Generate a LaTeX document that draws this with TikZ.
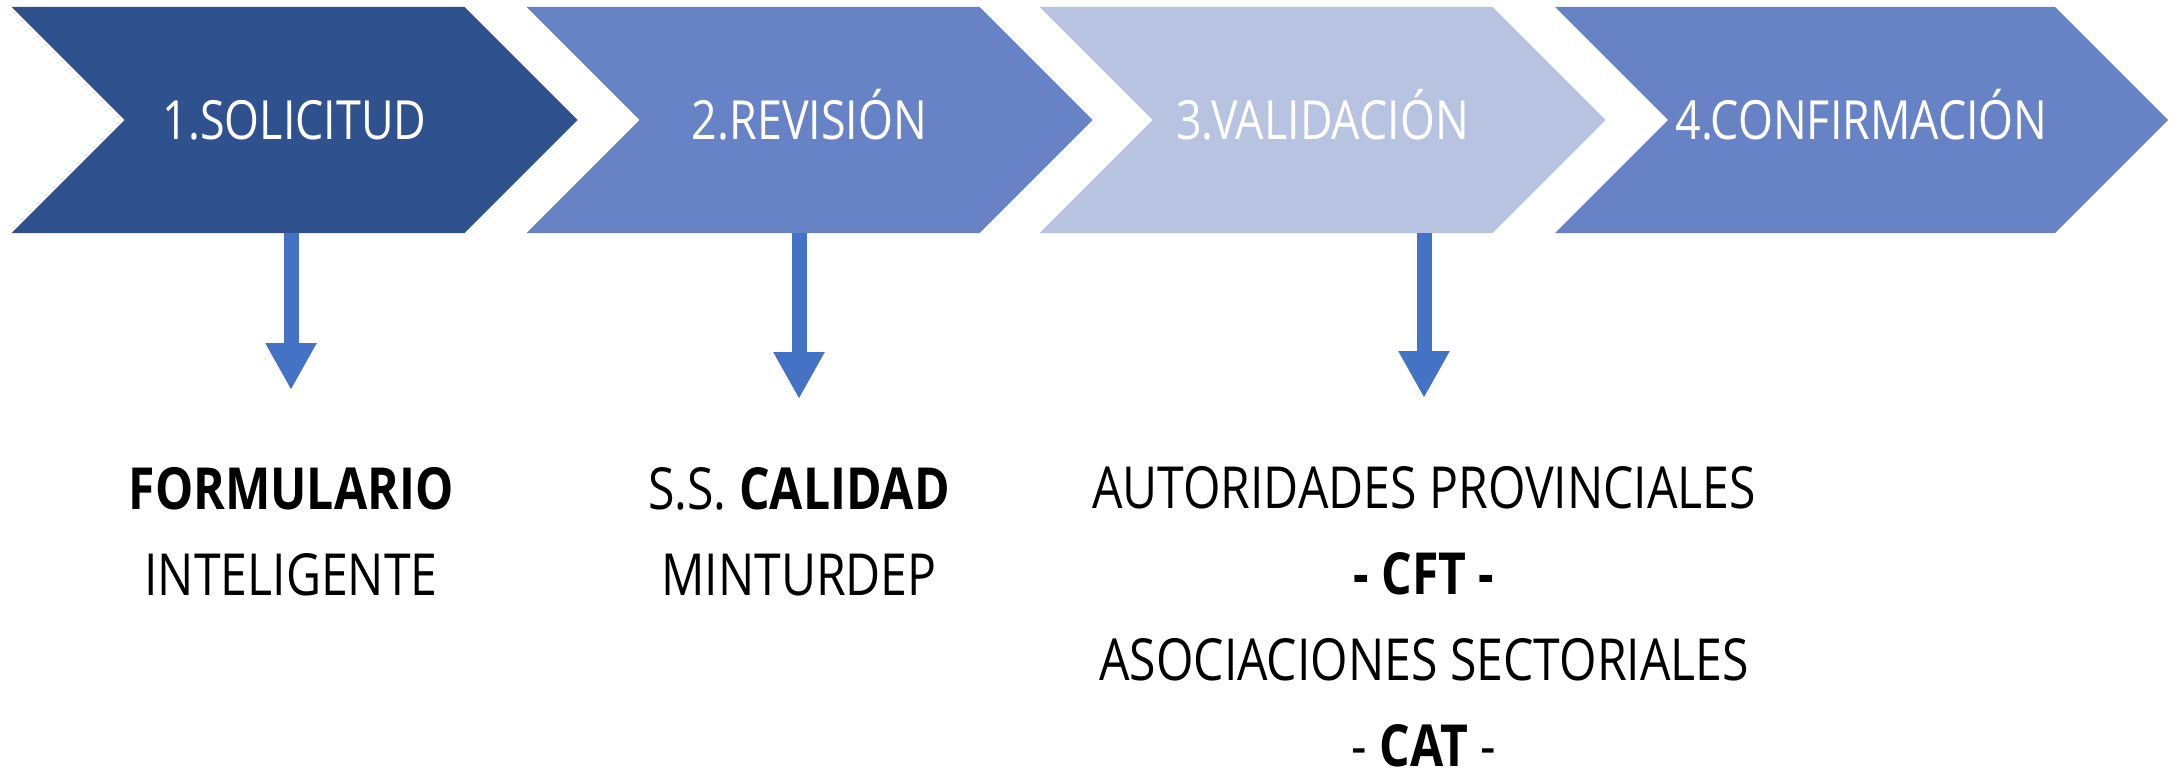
\documentclass[tikz,border=0pt]{standalone}
\usepackage{fontspec}
\setmainfont{Open Sans}[FakeStretch=0.83]
\usepackage{tikz}
\usetikzlibrary{positioning,shapes.symbols,arrows.meta}
\definecolor{azulosc}{RGB}{47,82,143}
\definecolor{azulmed}{RGB}{103,131,197}
\definecolor{azulcla}{RGB}{183,195,225}
\definecolor{azulflecha}{RGB}{68,114,196}
\tikzset{paso/.style = {signal,signal from=west,signal to=east,signal pointer angle=90,
    minimum height=226pt,minimum width=566pt,inner sep=0pt,outer sep=0pt,
    text=white,font=\fontsize{54}{60}\selectfont,text height=38pt,text depth=0pt},
  texto/.style = {align=center,inner sep=0pt,anchor=north,font=\fontsize{58}{86}\selectfont},
  flecha/.style = {azulflecha,line width=15pt,-{Triangle[width=48pt,length=47pt]}}}

\begin{document}
\begin{tikzpicture}[x=1pt,y=-1pt]
        \useasboundingbox (0,0) rectangle (2175,768);
        \node [paso,fill=azulosc] (sol) at (294.5,120) {1.SOLICITUD};
        \node [paso,fill=azulmed] (rev) at (809.5,120) {2.REVISIÓN};
        \node [paso,fill=azulcla] (val) at (1322.5,120) {3.VALIDACIÓN};
        \node [paso,fill=azulmed,minimum width=613pt] (conf) at (1861.5,120) {4.CONFIRMACIÓN};
        \node [texto] (form) at (291,467) {\textbf{FORMULARIO}\\INTELIGENTE};
        \node [texto] (cal) at (799,467) {S.S. \textbf{CALIDAD}\\MINTURDEP};
        \node [texto] (aut) at (1424,466) {AUTORIDADES PROVINCIALES\\\textbf{- CFT -}\\ASOCIACIONES SECTORIALES\\- \textbf{CAT} -};
        \foreach \a/\b/\s in {sol/form/77pt,rev/cal/68pt,val/aut/68pt}
            \draw [flecha,shorten >=\s] (\a.south -| \b.north) -- (\b.north);
    \end{tikzpicture}
\end{document}
